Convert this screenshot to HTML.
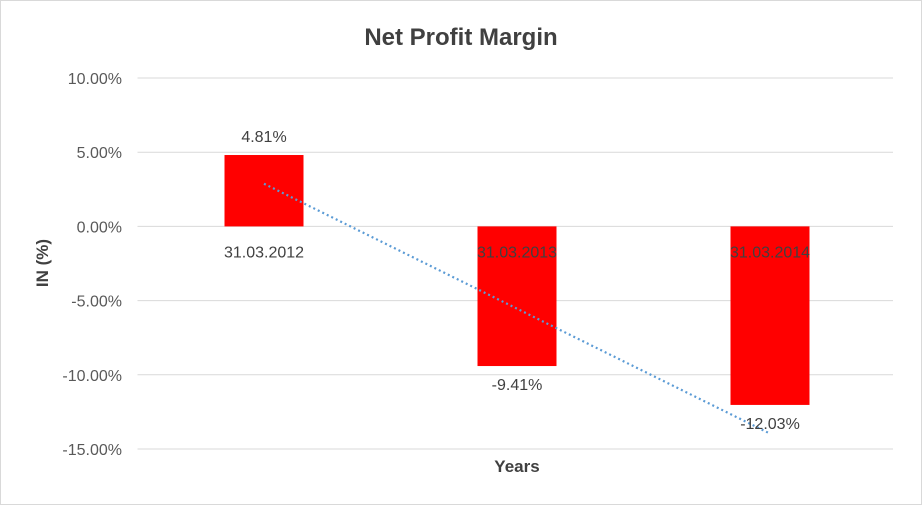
<!DOCTYPE html>
<html><head><meta charset="utf-8"><style>
html,body{margin:0;padding:0;background:#fff;}
svg{display:block;font-family:"Liberation Sans",Calibri,sans-serif;}
</style></head><body>
<svg id="chart" width="922" height="505" viewBox="0 0 922 505">
<rect x="0.5" y="0.5" width="921" height="504" fill="#fff" stroke="#d9d9d9"/>
<text x="461" y="45" text-anchor="middle" font-size="24" font-weight="bold" fill="#404040">Net Profit Margin</text>
<text transform="translate(48,263) rotate(-90)" text-anchor="middle" font-size="17" font-weight="bold" fill="#404040">IN (%)</text>
<text x="517" y="472" text-anchor="middle" font-size="17" font-weight="bold" fill="#404040">Years</text>
<g id="grid"></g><g id="bars"></g><g id="trend"></g><g id="labels"></g>
</svg>
<script>
const categories=["31.03.2012","31.03.2013","31.03.2014"];
const values=[4.81,-9.41,-12.03];
const valueLabels=["4.81%","-9.41%","-12.03%"];
const yTicks=[10,5,0,-5,-10,-15];
const yTickLabels=["10.00%","5.00%","0.00%","-5.00%","-10.00%","-15.00%"];
const NS="http://www.w3.org/2000/svg";
const L=137.5,R=896.5,T=78,B=449,yMax=10,yMin=-15;
const y=v=>T+(yMax-v)/(yMax-yMin)*(B-T);
const cw=(R-L)/categories.length;
const xc=i=>L+cw*(i+0.5);
function mk(tag,attrs,parent){const e=document.createElementNS(NS,tag);for(const k in attrs)e.setAttribute(k,attrs[k]);document.getElementById(parent).appendChild(e);return e;}
yTicks.forEach((t,i)=>{
 const g=mk('line',{x1:L,x2:893,y1:y(t),y2:y(t),stroke:'#d9d9d9','stroke-width':1},'grid');
 
 
 const tx=mk('text',{x:122,y:y(t)+6,'text-anchor':'end','font-size':16,fill:'#595959'},'grid');
 tx.textContent=yTickLabels[i];
 
 
});
const bw=79;
values.forEach((v,i)=>{
 const y0=y(0),y1=y(v);
 const r=mk('rect',{x:xc(i)-bw/2,y:Math.min(y0,y1),width:bw,height:Math.abs(y1-y0),fill:'#ff0000'},'bars');
 
 
 const c=mk('text',{x:xc(i),y:y(0)+31,'text-anchor':'middle','font-size':16,fill:'#404040'},'labels');
 c.textContent=categories[i];
 
 
 const d=mk('text',{x:xc(i),y:v>=0?y1-13:y1+24,'text-anchor':'middle','font-size':16,fill:'#404040'},'labels');
 d.textContent=valueLabels[i];
 
 
});
// linear trendline
const n=values.length;let sx=0,sy=0,sxy=0,sxx=0;
values.forEach((v,i)=>{const xx=i+1;sx+=xx;sy+=v;sxy+=xx*v;sxx+=xx*xx;});
const m=(n*sxy-sx*sy)/(n*sxx-sx*sx),b=(sy-m*sx)/n;
const tl=mk('line',{x1:xc(0),y1:y(m*1+b),x2:xc(n-1),y2:y(m*n+b),stroke:'#5b9bd5','stroke-width':2.2,'stroke-dasharray':'2 3'},'trend');


</script>
</body></html>
